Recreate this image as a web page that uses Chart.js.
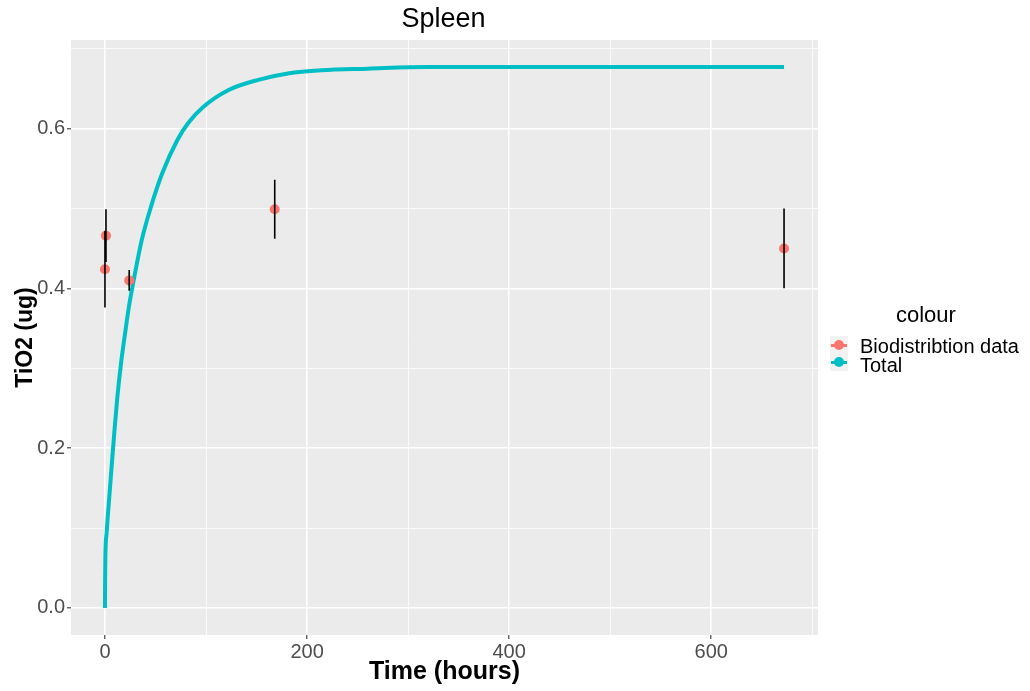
<!DOCTYPE html>
<html>
<head>
<meta charset="utf-8">
<script src="https://cdn.jsdelivr.net/npm/chart.js@4/dist/chart.umd.min.js"></script>
<style>
  body { margin: 0; background: #fff; font-family: "Liberation Sans", Arial, sans-serif; }
  #wrap { position: relative; width: 1030px; height: 691px; }
  .txt { position: absolute; line-height: 1; white-space: nowrap; color: #000; }
  .key { position: absolute; width: 18px; height: 17.5px; background: #f2f2f2; }
  .key::before { content: ""; position: absolute; left: 1px; right: 1px; top: 7.5px; height: 3px; background: var(--c); }
  .key::after { content: ""; position: absolute; left: 4px; top: 3.5px; width: 10px; height: 10px; border-radius: 50%; background: var(--c); }
</style>
</head>
<body>
<div id="wrap">
  <canvas id="chart" width="1030" height="691"></canvas>
  <div class="txt" style="left:0;width:887px;text-align:center;top:5px;font-size:27px;">Spleen</div>
  <div class="txt" style="left:896px;top:304px;font-size:22px;">colour</div>
  <div class="key" style="left:830px;top:336px;--c:#F8766D;"></div>
  <div class="key" style="left:830px;top:353.5px;--c:#00BFC4;"></div>
  <div class="txt" style="left:860px;top:336px;font-size:20px;">Biodistribtion data</div>
  <div class="txt" style="left:860px;top:355px;font-size:20px;">Total</div>
</div>
<script>
// Model curve (Total)
const curveTime  = [0, 0.1, 0.4, 1.7, 4.3, 6.6, 9.3, 12.2, 15.8, 20.5, 23.7, 29.6, 36.3, 45.5, 56.7, 71.8, 82.4, 97.2, 121.9, 151.6, 181, 214, 260, 320, 400, 500, 600, 672];
const curveValue = [0, 0.026, 0.063, 0.095, 0.139, 0.177, 0.220, 0.263, 0.305, 0.349, 0.377, 0.418, 0.460, 0.502, 0.544, 0.586, 0.607, 0.627, 0.648, 0.661, 0.669, 0.673, 0.675, 0.677, 0.677, 0.677, 0.677, 0.677];

// Biodistribution measurements with error bars
const bioTime  = [0, 1, 24, 168, 672];
const bioValue = [0.424, 0.466, 0.410, 0.499, 0.450];
const bioError = [0.048, 0.033, 0.013, 0.037, 0.050];

// Axis ticks (major ones get labels)
const xTicks = [0, 100, 200, 300, 400, 500, 600, 700];
const xLabels = [0, 200, 400, 600];
const yTicks = [0, 0.1, 0.2, 0.3, 0.4, 0.5, 0.6, 0.7];
const yLabels = [0, 0.2, 0.4, 0.6];

const isMajor = (list, v) => list.some(l => Math.abs(l - v) < 1e-9);

// error bars as one broken line
const errData = [];
bioTime.forEach((t, i) => {
  errData.push({x: t, y: bioValue[i] - bioError[i]});
  errData.push({x: t, y: bioValue[i] + bioError[i]});
  errData.push({x: t, y: null});
});

const panelBg = {
  id: "panelBg",
  beforeDraw(chart) {
    const a = chart.chartArea, c = chart.ctx;
    c.save();
    c.fillStyle = "#EBEBEB";
    c.fillRect(a.left, a.top, a.right - a.left, a.bottom - a.top);
    c.restore();
  }
};

const gridOpts = list => ({
  color: "#FFFFFF",
  lineWidth: ctx => isMajor(list, ctx.tick.value) ? 1.6 : 0.8,
  tickColor: ctx => isMajor(list, ctx.tick.value) ? "#333333" : "rgba(0,0,0,0)",
  tickWidth: 1.1,
  tickLength: 4,
  drawTicks: true
});

new Chart(document.getElementById("chart"), {
  type: "scatter",
  data: {
    datasets: [{
      label: "error",
      data: errData,
      showLine: true,
      spanGaps: false,
      borderColor: "#000000",
      borderWidth: 1.6,
      pointRadius: 0,
      order: 0
    }, {
      label: "Biodistribtion data",
      data: bioTime.map((t, i) => ({x: t, y: bioValue[i]})),
      backgroundColor: "#F8766D",
      borderWidth: 0,
      pointRadius: 5,
      order: 1
    }, {
      label: "Total",
      data: curveTime.map((t, i) => ({x: t, y: curveValue[i]})),
      showLine: true,
      borderColor: "#00BFC4",
      borderWidth: 4,
      pointRadius: 0,
      cubicInterpolationMode: "monotone",
      order: 2
    }]
  },
  options: {
    responsive: false,
    animation: false,
    devicePixelRatio: 1,
    layout: { padding: { left: 0, right: 212, top: 40, bottom: 0 } },
    plugins: { legend: { display: false }, tooltip: { enabled: false } },
    scales: {
      x: {
        type: "linear",
        min: -33.6,
        max: 705.6,
        afterBuildTicks: s => { s.ticks = xTicks.map(v => ({value: v})); },
        afterFit: s => { s.height = 56; },
        border: { display: false },
        grid: gridOpts(xLabels),
        ticks: {
          padding: 1,
          color: "#4D4D4D",
          font: { family: "Liberation Sans", size: 20 },
          callback: v => isMajor(xLabels, v) ? String(v) : ""
        },
        title: {
          display: true,
          text: "Time (hours)",
          color: "#000",
          font: { family: "Liberation Sans", size: 25, weight: "bold" },
          padding: { top: 0, bottom: 4 }
        }
      },
      y: {
        type: "linear",
        min: -0.0339,
        max: 0.7109,
        afterBuildTicks: s => { s.ticks = yTicks.map(v => ({value: v})); },
        afterFit: s => { s.width = 71; },
        border: { display: false },
        grid: gridOpts(yLabels),
        ticks: {
          padding: 2,
          color: "#4D4D4D",
          font: { family: "Liberation Sans", size: 20 },
          callback: v => isMajor(yLabels, v) ? v.toFixed(1) : ""
        },
        title: {
          display: true,
          text: "TiO2 (ug)",
          color: "#000",
          font: { family: "Liberation Sans", size: 23, weight: "bold" },
          padding: { top: 12, bottom: 0 }
        }
      }
    }
  },
  plugins: [panelBg]
});
</script>
</body>
</html>
